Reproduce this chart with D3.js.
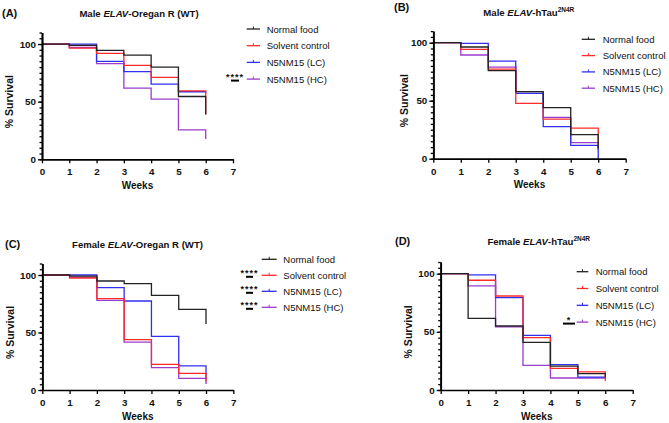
<!DOCTYPE html>
<html>
<head>
<meta charset="utf-8">
<script src="https://cdn.jsdelivr.net/npm/d3@7"></script>
<style>
  body { margin: 0; background: #fff; }
  svg { display: block; font-family: "Liberation Sans", Arial, sans-serif; }
</style>
</head>
<body>
<div id="chart"></div>
<script>
// data (percent survival at the start of each week, last = end of week 6)
const weeks = [0, 1, 2, 3, 4, 5, 6];
const seriesNames = ["Normal food", "Solvent control", "N5NM15 (LC)", "N5NM15 (HC)"];
const xTicks = [0, 1, 2, 3, 4, 5, 6, 7];
const yTicks = [0, 50, 100];

const maleWT_normal  = [100, 98.8, 94.5, 90.4, 80, 54.5, 39];
const maleWT_solvent = [100, 96.5, 91.9, 81.4, 71, 59.4, 38.6];
const maleWT_lc      = [100, 100, 85, 76, 65.2, 58.6, 57];
const maleWT_hc      = [100, 97, 83, 61.7, 52.2, 25.5, 17.7];

const maleTau_normal  = [100, 96.3, 76, 57.8, 44, 20.7, 9];
const maleTau_solvent = [100, 94.3, 77.3, 47.7, 34.2, 26.4, 10];
const maleTau_lc      = [100, 99.4, 84.2, 56.3, 27.6, 11.5, 0];
const maleTau_hc      = [100, 89.4, 79, 56.3, 35.6, 13.8, 8];

const femaleWT_normal  = [100, 99, 94.8, 92.5, 82.3, 70.1, 57.4];
const femaleWT_solvent = [100, 97.4, 79.4, 43.8, 22.3, 14.5, 7.5];
const femaleWT_lc      = [100, 100, 89, 77.4, 46.7, 20.9, 10.4];
const femaleWT_hc      = [100, 98, 78, 41.7, 19.4, 10.1, 5.2];

const femaleTau_normal  = [100, 61.6, 55, 41, 20.6, 14, 11];
const femaleTau_solvent = [100, 94.3, 80.8, 45, 18.6, 15.5, 7.7];
const femaleTau_lc      = [100, 98.9, 79.4, 47, 21.8, 11, 10];
const femaleTau_hc      = [100, 89.4, 54.2, 21.2, 10.3, 10.3, 10.3];

// significance marks: legend row index -> label
const maleWT_sig = [{ row: 3, label: "****" }];
const maleTau_sig = [];
const femaleWT_sig = [{ row: 1, label: "****" }, { row: 2, label: "****" }, { row: 3, label: "****" }];
const femaleTau_sig = [{ row: 3, label: "*" }];

const colors = ["#222222", "#ff2b2b", "#2f2ff0", "#9a3ccc"];

const width = 669, height = 423;
const svg = d3.select("#chart").append("svg")
  .attr("width", width).attr("height", height);
svg.append("rect").attr("width", width).attr("height", height).attr("fill", "#fff");

const panels = [
  { letter: "(A)", sex: "Male", line: "-Oregan R (WT)", sup: null,
    series: [maleWT_normal, maleWT_solvent, maleWT_lc, maleWT_hc], sig: maleWT_sig,
    x: [42, 233], y: [159.3, 32.5], ylabX: 9.5,
    letterPos: [2, 17], titlePos: [139, 17],
    legend: { x0: 246.7, x1: 260, tx: 266.7, y0: 29, dy: 16.7 }, sigX: 235, dashW: 8 },
  { letter: "(B)", sex: "Male", line: "-hTau", sup: "2N4R",
    series: [maleTau_normal, maleTau_solvent, maleTau_lc, maleTau_hc], sig: maleTau_sig,
    x: [433.3, 625.7], y: [158.7, 31.1], ylabX: 404,
    letterPos: [394, 11], titlePos: [528.8, 16],
    legend: { x0: 581.7, x1: 595, tx: 602.7, y0: 39.3, dy: 16.3 }, sigX: 575, dashW: 8 },
  { letter: "(C)", sex: "Female", line: "-Oregan R (WT)", sup: null,
    series: [femaleWT_normal, femaleWT_solvent, femaleWT_lc, femaleWT_hc], sig: femaleWT_sig,
    x: [42.3, 233.3], y: [390, 263.5], ylabX: 10.7,
    letterPos: [5, 248], titlePos: [137.5, 248],
    legend: { x0: 261.7, x1: 276.7, tx: 283.3, y0: 259.3, dy: 16 }, sigX: 249.5, dashW: 7 },
  { letter: "(D)", sex: "Female", line: "-hTau", sup: "2N4R",
    series: [femaleTau_normal, femaleTau_solvent, femaleTau_lc, femaleTau_hc], sig: femaleTau_sig,
    x: [440.7, 632.7], y: [390, 262], ylabX: 408.5,
    letterPos: [395, 245], titlePos: [538.7, 245],
    legend: { x0: 576.7, x1: 588.3, tx: 595.7, y0: 271.7, dy: 16.8 }, sigX: 569, dashW: 12 }
];

panels.forEach(p => {
  const g = svg.append("g");
  const x = d3.scaleLinear().domain([0, 7]).range(p.x);
  const y = d3.scaleLinear().domain([0, 110]).range(p.y);

  // survival curves
  const line = d3.line()
    .x((d, i) => x(weeks[i]))
    .y(d => y(d))
    .curve(d3.curveStepAfter);
  [3, 2, 1, 0].forEach(k => {
    g.append("path")
      .attr("d", line(p.series[k]))
      .attr("fill", "none")
      .attr("stroke", colors[k])
      .attr("stroke-width", 1.3);
  });

  // axes
  const xAxis = g.append("g")
    .attr("transform", `translate(0,${p.y[0]})`)
    .call(d3.axisBottom(x).tickValues(xTicks).tickFormat(d3.format("d"))
      .tickSize(4).tickSizeOuter(0).tickPadding(5));
  const yMinor = g.append("g")
    .attr("transform", `translate(${p.x[0]},0)`)
    .call(d3.axisLeft(y).tickValues(d3.range(0, 111, 5)).tickSize(2.5).tickSizeOuter(0).tickFormat(""));
  const yAxis = g.append("g")
    .attr("transform", `translate(${p.x[0]},0)`)
    .call(d3.axisLeft(y).tickValues(yTicks).tickFormat(d3.format("d"))
      .tickSize(4).tickSizeOuter(0).tickPadding(2));
  [xAxis, yMinor, yAxis].forEach(a => {
    a.select(".domain").attr("stroke", "#000").attr("stroke-width", 1.7);
    a.selectAll(".tick line").attr("stroke", "#000").attr("stroke-width", 1.3);
    a.selectAll("text").attr("font-family", "Liberation Sans, Arial, sans-serif")
      .attr("font-size", 9.8).attr("font-weight", "bold").attr("fill", "#111");
  });

  // axis labels
  g.append("text")
    .attr("x", (p.x[0] + p.x[1]) / 2).attr("y", p.y[0] + 29.5)
    .attr("text-anchor", "middle")
    .attr("font-size", 10).attr("font-weight", "bold").attr("fill", "#111")
    .text("Weeks");
  const midY = (y(0) + y(100)) / 2;
  g.append("text")
    .attr("transform", `translate(${p.ylabX + 3.5},${midY}) rotate(-90)`)
    .attr("text-anchor", "middle")
    .attr("font-size", 10.5).attr("font-weight", "bold").attr("fill", "#111")
    .text("% Survival");

  // panel letter and title
  g.append("text")
    .attr("x", p.letterPos[0]).attr("y", p.letterPos[1])
    .attr("font-size", 11).attr("font-weight", "bold").attr("fill", "#111")
    .text(p.letter);
  const t = g.append("text")
    .attr("x", p.titlePos[0]).attr("y", p.titlePos[1])
    .attr("text-anchor", "middle")
    .attr("font-size", 9.6).attr("font-weight", "bold").attr("fill", "#111");
  t.append("tspan").text(p.sex + " ");
  t.append("tspan").attr("font-style", "italic").text("ELAV");
  t.append("tspan").text(p.line);
  if (p.sup) {
    t.append("tspan").attr("font-size", 6.5).attr("dy", -4).text(p.sup);
  }

  // legend
  const L = p.legend;
  seriesNames.forEach((name, k) => {
    const ly = L.y0 + k * L.dy;
    g.append("line")
      .attr("x1", L.x0).attr("x2", L.x1).attr("y1", ly).attr("y2", ly)
      .attr("stroke", colors[k]).attr("stroke-width", 1.3);
    g.append("line")
      .attr("x1", (L.x0 + L.x1) / 2).attr("x2", (L.x0 + L.x1) / 2)
      .attr("y1", ly - 2.5).attr("y2", ly)
      .attr("stroke", colors[k]).attr("stroke-width", 1);
    g.append("text")
      .attr("x", L.tx).attr("y", ly + 3.5)
      .attr("font-size", 9.5).attr("fill", "#111")
      .text(name);
  });

  // significance marks
  p.sig.forEach(s => {
    const ly = L.y0 + s.row * L.dy + 1.5;
    g.append("line")
      .attr("x1", p.sigX - p.dashW / 2).attr("x2", p.sigX + p.dashW / 2)
      .attr("y1", ly).attr("y2", ly)
      .attr("stroke", "#000").attr("stroke-width", 2);
    g.append("text")
      .attr("x", p.sigX).attr("y", ly - 0.5)
      .attr("text-anchor", "middle")
      .attr("font-size", 9).attr("font-weight", "bold").attr("letter-spacing", 1)
      .attr("fill", "#111")
      .text(s.label);
  });
});
</script>
</body>
</html>
